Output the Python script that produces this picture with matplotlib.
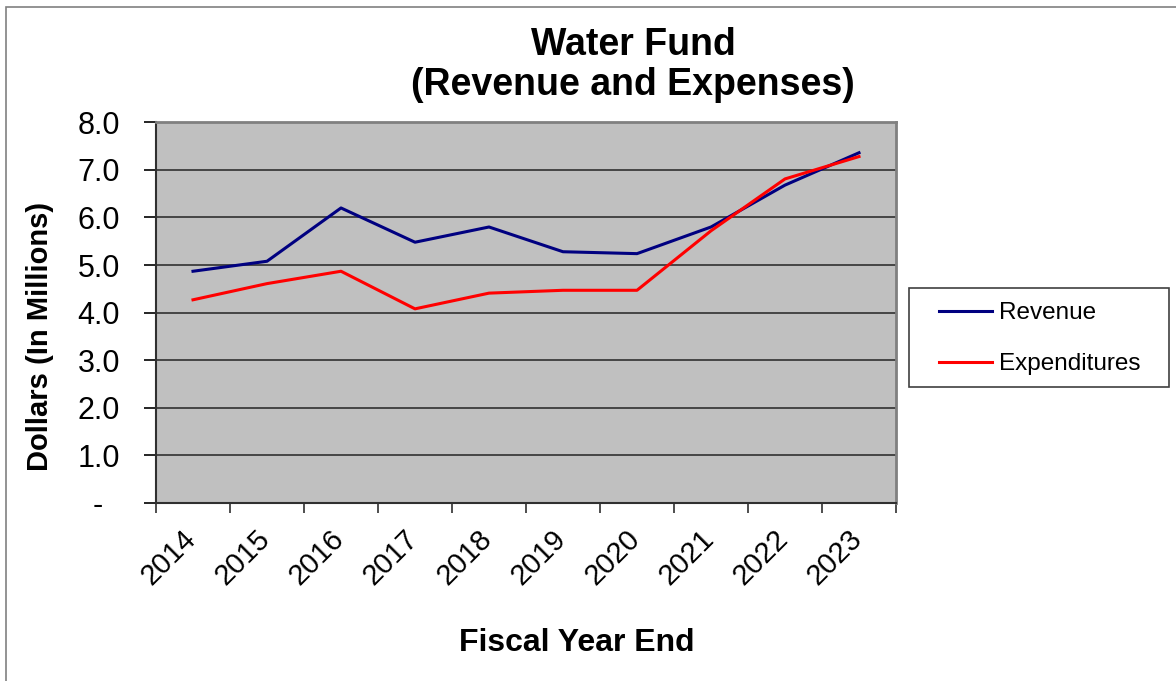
import matplotlib
matplotlib.use("Agg")
import matplotlib.pyplot as plt
import matplotlib.transforms as mtransforms
from matplotlib.patches import Rectangle
import numpy as np

plt.rcParams['font.family'] = ['Liberation Sans', 'DejaVu Sans']

years = ["2014", "2015", "2016", "2017", "2018", "2019", "2020", "2021", "2022", "2023"]
revenue = [4.87, 5.08, 6.20, 5.48, 5.80, 5.28, 5.24, 5.80, 6.68, 7.36]
expenditures = [4.27, 4.61, 4.87, 4.08, 4.41, 4.47, 4.47, 5.72, 6.81, 7.28]
y_ticks = [0, 1, 2, 3, 4, 5, 6, 7, 8]

W, H = 1176, 681
fig = plt.figure(figsize=(W / 100, H / 100), dpi=100)
fig.patch.set_facecolor("white")

# outer frame
fig.add_artist(Rectangle((6 / W, -0.05), 1.2, 1 - 7 / H + 0.05, transform=fig.transFigure,
                         fill=False, edgecolor="#808080", linewidth=1.2))

ax = fig.add_axes([156 / W, 1 - 503 / H, (896 - 156) / W, (503 - 122.3) / H])
ax.set_facecolor("#C0C0C0")

x = np.arange(len(years))
ax.plot(x, revenue, color="#000080", linewidth=2.2, label="Revenue")
ax.plot(x, expenditures, color="#FF0000", linewidth=2.2, label="Expenditures")

ax.set_xlim(-0.5, len(years) - 0.5)
ax.set_ylim(0, 8)
ax.set_yticks(y_ticks)
ax.set_yticklabels(["-  " if v == 0 else f"{v:.1f}" for v in y_ticks], fontsize=22)
for v in y_ticks[1:-1]:
    ax.axhline(v, color="#303030", linewidth=1.2, zorder=1)

# category ticks at boundaries, labels at centers
ax.set_xticks(np.arange(len(years) + 1) - 0.5)
ax.set_xticklabels([])
lab_tr = ax.get_xaxis_transform() + mtransforms.ScaledTranslation(-11 / 100, -22 / 100,
                                                                   fig.dpi_scale_trans)
for xi, yr in zip(x, years):
    ax.text(xi, 0, yr, transform=lab_tr, rotation=45, ha="right", va="top",
            rotation_mode="anchor", fontsize=21, clip_on=False)
ax.tick_params(axis="x", which="major", length=7, width=1.2, color="#303030", direction="out")
ax.tick_params(axis="y", length=9, width=1.2, color="#000000", direction="out", pad=17)

for s in ["left", "bottom"]:
    ax.spines[s].set_color("#303030")
    ax.spines[s].set_linewidth(1.5)
for s in ["top", "right"]:
    ax.spines[s].set_color("#808080")
    ax.spines[s].set_linewidth(2)

fig.text(40 / W, 1 - 336 / H, "Dollars (In Millions)", fontsize=21, fontweight="bold",
         rotation=90, ha="center", va="center")
fig.text(577 / W, 1 - 643 / H, "Fiscal Year End", fontsize=23,
         fontweight="bold", ha="center", va="center")
fig.text(633 / W, 1 - 65 / H, "Water Fund\n(Revenue and Expenses)", fontsize=27,
         fontweight="bold", ha="center", va="center", linespacing=1.15)

# legend
fig.add_artist(Rectangle((909 / W, 1 - 387 / H), (1169 - 909) / W, (387 - 288) / H,
                         transform=fig.transFigure, fill=False, edgecolor="#404040",
                         linewidth=1.2))
leg = fig.legend(loc="upper left", bbox_to_anchor=(939 / W, 1 - 302 / H),
                 fontsize=17.5, frameon=False, handlelength=2.2, labelspacing=1.2,
                 borderpad=0, handletextpad=0.25, borderaxespad=0)

fig.savefig("out.png", dpi=100)
